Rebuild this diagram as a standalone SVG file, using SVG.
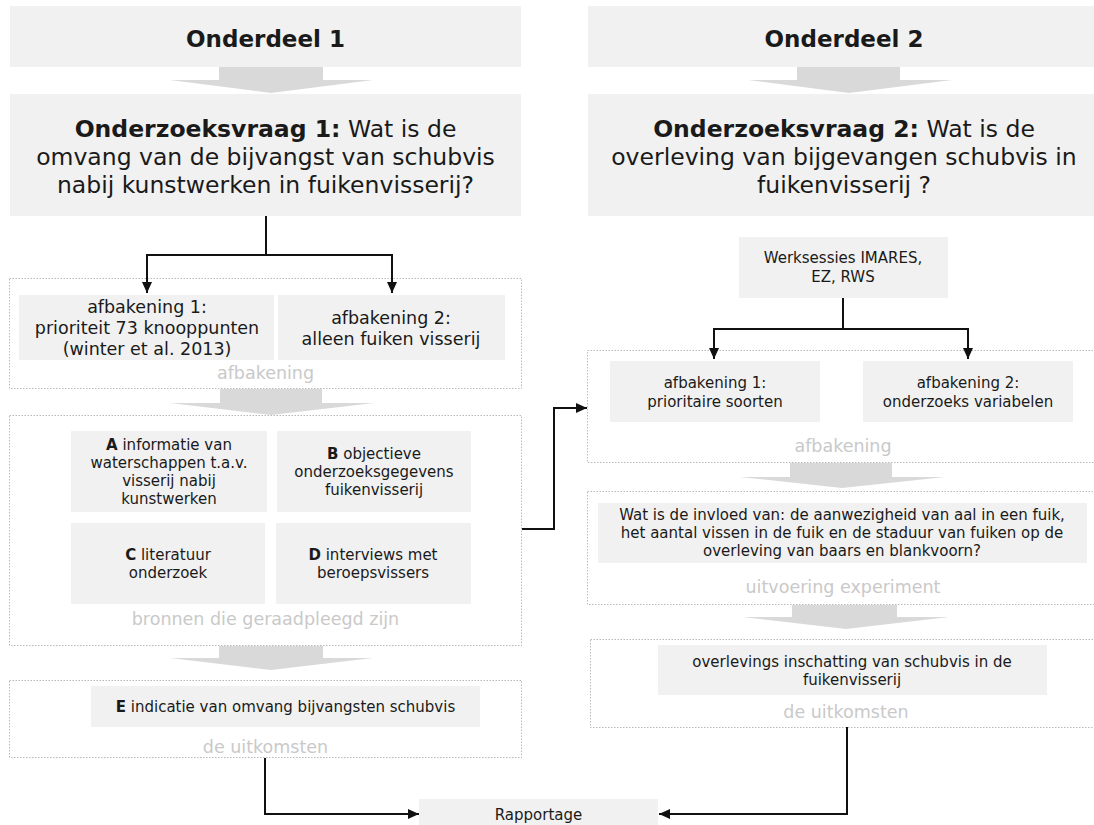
<svg xmlns="http://www.w3.org/2000/svg" width="1094" height="825" viewBox="0 0 1094 825">
<defs>
<style>
text{font-family:"DejaVu Sans","Verdana",sans-serif;fill:#1a1a1a;text-anchor:middle}
.box{fill:#f1f1f1}
.cont{fill:none;stroke:#b8b8b8;stroke-width:1;stroke-dasharray:1.5 1.5}
.blk{fill:#d9d9d9}
.h1{font-size:23px;font-weight:bold}
.q{font-size:23.5px}
.b{font-weight:bold}
.m{font-size:17.5px}
.s{font-size:15px}
.lbl{font-size:17.5px;fill:#c9c9c9}
.con{fill:none;stroke:#111;stroke-width:2}
</style>
<marker id="ah" markerUnits="userSpaceOnUse" markerWidth="12" markerHeight="12" viewBox="0 0 12 12" refX="11" refY="6" orient="auto">
<path d="M0,1 L11,6 L0,11 Z" fill="#111"/>
</marker>
</defs>
<rect width="1094" height="825" fill="#ffffff"/>

<g id="onderdeel1">
<rect class="box" x="10" y="6" width="511" height="61"/>
<text class="h1" x="265.5" y="47">Onderdeel 1</text>
</g>
<g id="pijl1a"><path class="blk" d="M219,67 H323 V80 H373 L271,93 L170,80 H219 Z"/></g>
<g id="vraag1">
<rect class="box" x="10" y="94" width="511" height="122"/>
<text class="q" x="265.5" y="137"><tspan class="b">Onderzoeksvraag 1:</tspan> Wat is de</text>
<text class="q" x="265.5" y="165">omvang van de bijvangst van schubvis</text>
<text class="q" x="265.5" y="193">nabij kunstwerken in fuikenvisserij?</text>
</g>

<g id="afbakening-links">
<rect class="cont" x="9.5" y="278.5" width="512" height="110"/>
<rect class="box" x="19" y="295" width="255" height="65"/>
<text class="m" x="147" y="313">afbakening 1:</text>
<text class="m" x="147" y="334">prioriteit 73 knooppunten</text>
<text class="m" x="147" y="355">(winter et al. 2013)</text>
<rect class="box" x="278" y="295" width="227" height="65"/>
<text class="m" x="391" y="324">afbakening 2:</text>
<text class="m" x="391" y="345">alleen fuiken visserij</text>
<text class="lbl" x="265.5" y="379">afbakening</text>
</g>
<g id="pijl1b"><path class="blk" d="M220,389 H322 V403 H374 L271,415 L170,403 H220 Z"/></g>

<g id="bronnen">
<rect class="cont" x="9.5" y="415.5" width="512" height="230"/>
<rect class="box" x="71" y="431" width="196" height="81"/>
<text class="s" x="169" y="450"><tspan class="b">A</tspan> informatie van</text>
<text class="s" x="169" y="468">waterschappen t.a.v.</text>
<text class="s" x="169" y="486">visserij nabij</text>
<text class="s" x="169" y="504">kunstwerken</text>
<rect class="box" x="277" y="431" width="194" height="81"/>
<text class="s" x="374" y="459"><tspan class="b">B</tspan> objectieve</text>
<text class="s" x="374" y="477">onderzoeksgegevens</text>
<text class="s" x="374" y="495">fuikenvisserij</text>
<rect class="box" x="71" y="523" width="194" height="81"/>
<text class="s" x="168" y="560"><tspan class="b">C</tspan> literatuur</text>
<text class="s" x="168" y="578">onderzoek</text>
<rect class="box" x="276" y="523" width="195" height="81"/>
<text class="s" x="373" y="560"><tspan class="b">D</tspan> interviews met</text>
<text class="s" x="373" y="578">beroepsvissers</text>
<text class="lbl" x="265.5" y="625">bronnen die geraadpleegd zijn</text>
</g>
<g id="pijl1c"><path class="blk" d="M219,646 H323 V658 H373 L271,670 L170,658 H219 Z"/></g>

<g id="uitkomsten-links">
<rect class="cont" x="9.5" y="680.5" width="512" height="77"/>
<rect class="box" x="91" y="686" width="389" height="41"/>
<text class="s" x="285.5" y="712"><tspan class="b">E</tspan> indicatie van omvang bijvangsten schubvis</text>
<text class="lbl" x="265.5" y="753">de uitkomsten</text>
</g>

<g id="onderdeel2">
<rect class="box" x="588" y="6" width="510" height="61"/>
<text class="h1" x="844" y="47">Onderdeel 2</text>
</g>
<g id="pijl2a"><path class="blk" d="M797,67 H900 V80 H952 L849,93 L748,80 H797 Z"/></g>
<g id="vraag2">
<rect class="box" x="588" y="94" width="510" height="122"/>
<text class="q" x="844" y="137"><tspan class="b">Onderzoeksvraag 2:</tspan> Wat is de</text>
<text class="q" x="844" y="165">overleving van bijgevangen schubvis in</text>
<text class="q" x="844" y="193">fuikenvisserij ?</text>
</g>

<g id="werksessies">
<rect class="box" x="739" y="237" width="209" height="61"/>
<text class="s" x="843" y="263">Werksessies IMARES,</text>
<text class="s" x="843" y="282">EZ, RWS</text>
</g>

<g id="afbakening-rechts">
<rect class="cont" x="587.5" y="350.5" width="512" height="112"/>
<rect class="box" x="610" y="361" width="210" height="61"/>
<text class="s" x="715" y="388">afbakening 1:</text>
<text class="s" x="715" y="407">prioritaire soorten</text>
<rect class="box" x="863" y="361" width="210" height="61"/>
<text class="s" x="968" y="388">afbakening 2:</text>
<text class="s" x="968" y="407">onderzoeks variabelen</text>
<text class="lbl" x="843" y="452">afbakening</text>
</g>
<g id="pijl2b"><path class="blk" d="M790,463 H892 V477 H945 L842,488 L740,477 H790 Z"/></g>

<g id="experiment">
<rect class="cont" x="587.5" y="491.5" width="512" height="113"/>
<rect class="box" x="598" y="503" width="489" height="60"/>
<text class="s" x="842" y="520">Wat is de invloed van: de aanwezigheid van aal in een fuik,</text>
<text class="s" x="842" y="538">het aantal vissen in de fuik en de staduur van fuiken op de</text>
<text class="s" x="842" y="556">overleving van baars en blankvoorn?</text>
<text class="lbl" x="843" y="593">uitvoering experiment</text>
</g>
<g id="pijl2c"><path class="blk" d="M792,605 H897 V617 H949 L846,629 L743,617 H792 Z"/></g>

<g id="uitkomsten-rechts">
<rect class="cont" x="590.5" y="639.5" width="510" height="88"/>
<rect class="box" x="658" y="645" width="389" height="50"/>
<text class="s" x="852" y="667">overlevings inschatting van schubvis in de</text>
<text class="s" x="852" y="685">fuikenvisserij</text>
<text class="lbl" x="846" y="718">de uitkomsten</text>
</g>

<g id="rapportage">
<rect class="box" x="419" y="799" width="239" height="30"/>
<text class="s" x="538.5" y="820">Rapportage</text>
</g>

<g id="connectors">
<path class="con" d="M266,216 V255"/>
<path class="con" d="M147,255 H392"/>
<path class="con" d="M147,254 V293" marker-end="url(#ah)"/>
<path class="con" d="M392,254 V293" marker-end="url(#ah)"/>
<path class="con" d="M843,298 V329"/>
<path class="con" d="M714,329 H968"/>
<path class="con" d="M714,328 V359" marker-end="url(#ah)"/>
<path class="con" d="M968,328 V359" marker-end="url(#ah)"/>
<path class="con" d="M522,529 H554 V408 H587" marker-end="url(#ah)"/>
<path class="con" d="M265,758 V814 H419" marker-end="url(#ah)"/>
<path class="con" d="M847,727 V814 H659" marker-end="url(#ah)"/>
</g>
</svg>
